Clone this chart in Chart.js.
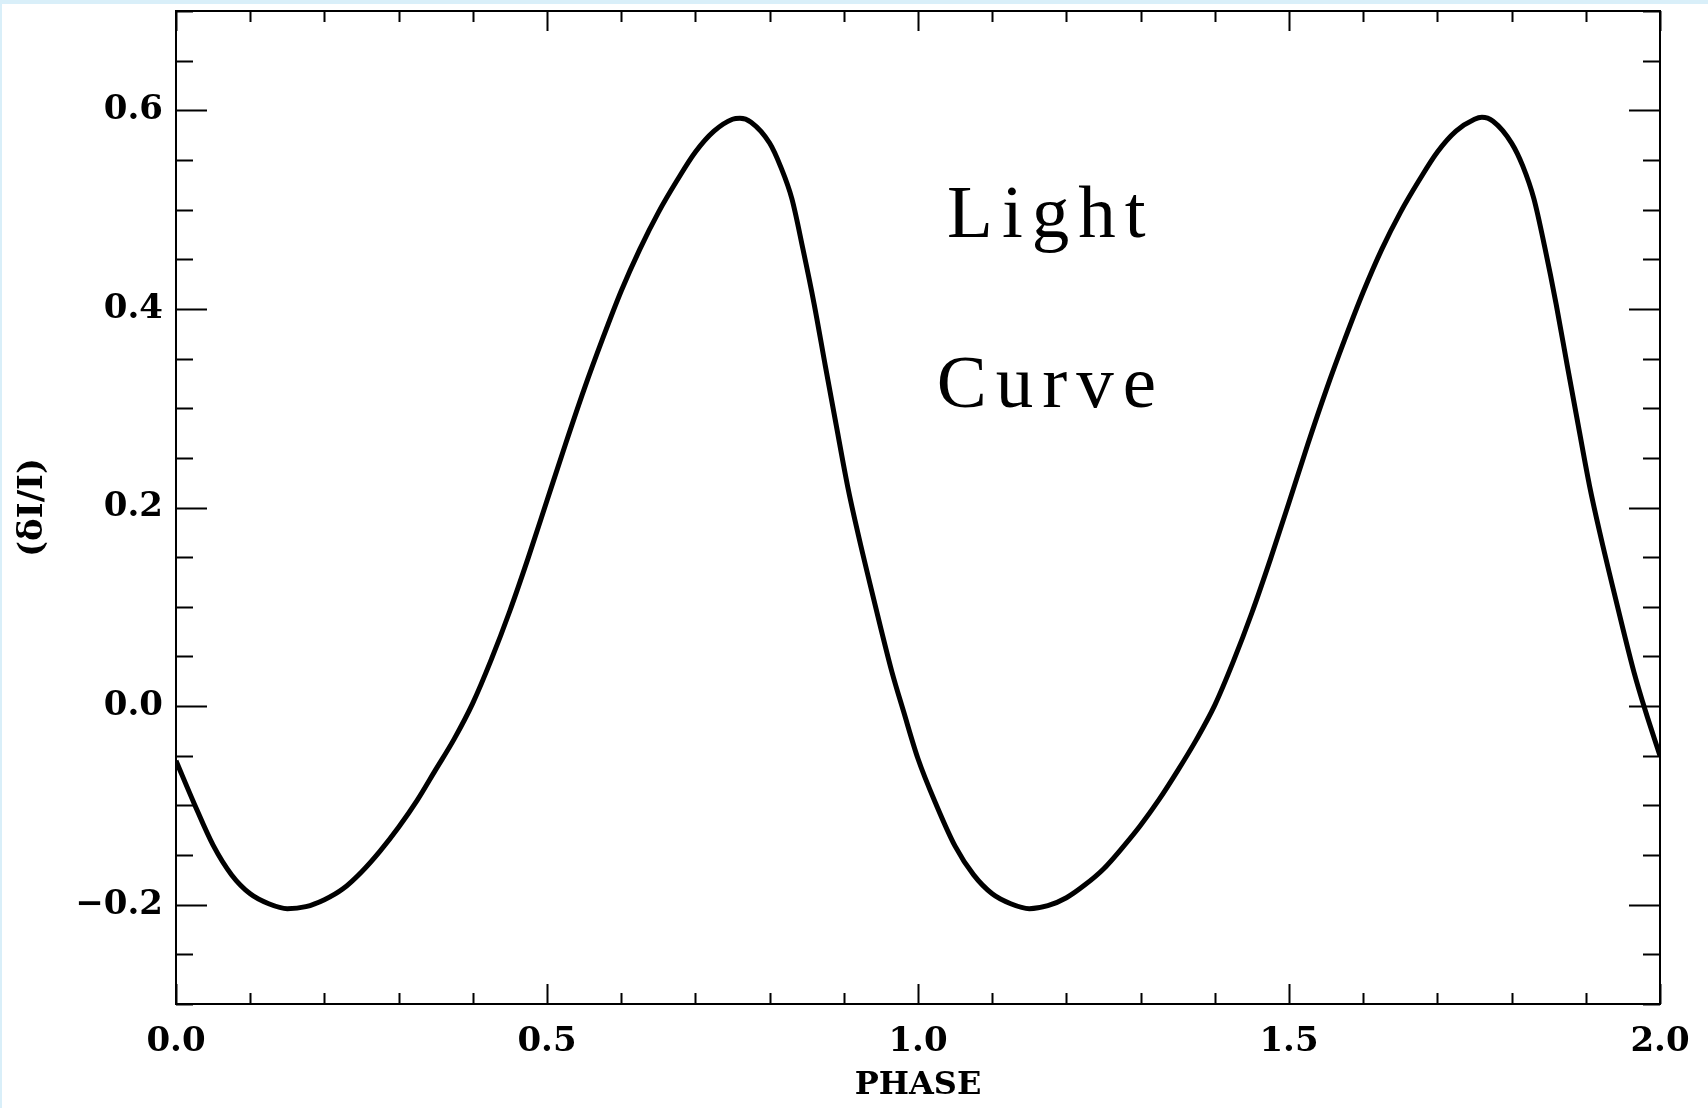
<!DOCTYPE html>
<html>
<head>
<meta charset="utf-8">
<script src="https://cdn.jsdelivr.net/npm/chart.js@4/dist/chart.umd.min.js"></script>
<style>
  html, body { margin: 0; padding: 0; background: #ffffff; }
  #chart { display: block; }
</style>
</head>
<body>
<canvas id="chart" width="1708" height="1108"></canvas>
<script>
// Light curve: phase vs (dI/I), two cycles
const phase = [
    0.000, 0.025, 0.050, 0.075, 0.100, 0.125, 0.150, 0.175, 0.200, 0.225,
    0.250, 0.275, 0.300, 0.325, 0.350, 0.375, 0.400, 0.425, 0.450, 0.475,
    0.500, 0.525, 0.550, 0.575, 0.600, 0.625, 0.650, 0.675, 0.700, 0.725,
    0.750, 0.760, 0.775, 0.800, 0.815, 0.830, 0.845, 0.860, 0.875, 0.890,
    0.905, 0.920, 0.935, 0.950, 0.965, 0.980,
    1.000, 1.025, 1.050, 1.075, 1.100, 1.125, 1.150, 1.175, 1.200, 1.225,
    1.250, 1.275, 1.300, 1.325, 1.350, 1.375, 1.400, 1.425, 1.450, 1.475,
    1.500, 1.525, 1.550, 1.575, 1.600, 1.625, 1.650, 1.675, 1.700, 1.725,
    1.750, 1.760, 1.775, 1.800, 1.815, 1.830, 1.845, 1.860, 1.875, 1.890,
    1.905, 1.920, 1.935, 1.950, 1.965, 1.980, 2.000
];
const deltaI = [
    -0.055, -0.099, -0.140, -0.170, -0.189, -0.199, -0.204, -0.202, -0.195, -0.184,
    -0.167, -0.146, -0.122, -0.095, -0.064, -0.033, 0.003, 0.047, 0.096, 0.150,
    0.207, 0.264, 0.319, 0.370, 0.418, 0.460, 0.497, 0.529, 0.558, 0.579,
    0.591, 0.592, 0.588, 0.567, 0.543, 0.511, 0.460, 0.405, 0.343, 0.282,
    0.222, 0.171, 0.124, 0.078, 0.034, -0.004,
    -0.053, -0.100, -0.141, -0.170, -0.189, -0.199, -0.204, -0.201, -0.193, -0.180,
    -0.164, -0.143, -0.120, -0.094, -0.065, -0.034, 0.001, 0.045, 0.094, 0.148,
    0.205, 0.263, 0.318, 0.369, 0.417, 0.460, 0.497, 0.529, 0.558, 0.579,
    0.591, 0.593, 0.589, 0.567, 0.544, 0.511, 0.461, 0.405, 0.343, 0.282,
    0.222, 0.171, 0.124, 0.078, 0.034, -0.004, -0.050
];

const xMajorTicks = [0, 0.5, 1.0, 1.5, 2.0];
const yMajorTicks = [-0.2, 0, 0.2, 0.4, 0.6];

// text written inside the plot, anchored in data units
const noteText = ['Light', 'Curve'];
const notePhase = [1.173, 1.173];
const noteLevel = [0.472, 0.301];

const fontFamily = '"DejaVu Serif", serif';

// light blue edge of the page + white sheet
const pageBackground = {
    id: 'pageBackground',
    beforeDraw(chart) {
        const ctx = chart.ctx;
        ctx.save();
        ctx.fillStyle = '#d9eff9';
        ctx.fillRect(0, 0, chart.width, chart.height);
        ctx.fillStyle = '#ffffff';
        ctx.fillRect(2, 4, chart.width - 2, chart.height - 4);
        ctx.restore();
    }
};

// box frame with inward ticks on all four sides
const frameTicks = {
    id: 'frameTicks',
    afterDraw(chart) {
        const { ctx, chartArea: a, scales } = chart;
        const xs = scales.x, ys = scales.y;
        ctx.save();
        ctx.strokeStyle = '#000';
        ctx.lineWidth = 2;
        ctx.strokeRect(a.left, a.top, a.right - a.left, a.bottom - a.top);

        ctx.beginPath();
        for (let i = 0; i <= 20; i++) {
            const v = i / 10;
            const len = (i % 5 === 0) ? 20 : 11;
            const px = Math.round(xs.getPixelForValue(v)) + 0.5;
            ctx.moveTo(px, a.bottom);
            ctx.lineTo(px, a.bottom - len);
            ctx.moveTo(px, a.top);
            ctx.lineTo(px, a.top + len);
        }
        for (let i = -6; i <= 14; i++) {
            const v = i * 0.05;
            const len = (i % 4 === 0) ? 31 : 17;
            const py = Math.round(ys.getPixelForValue(v)) + 0.5;
            ctx.moveTo(a.left, py);
            ctx.lineTo(a.left + len, py);
            ctx.moveTo(a.right, py);
            ctx.lineTo(a.right - len, py);
        }
        ctx.stroke();

        // annotation words
        ctx.fillStyle = '#000';
        ctx.font = '75px "Liberation Serif", serif';
        ctx.textAlign = 'center';
        ctx.textBaseline = 'alphabetic';
        ctx.letterSpacing = '9px';
        noteText.forEach((t, i) => {
            ctx.fillText(t, xs.getPixelForValue(notePhase[i]) + 4.5, ys.getPixelForValue(noteLevel[i]));
        });
        ctx.restore();
    }
};

new Chart(document.getElementById('chart'), {
    type: 'line',
    data: {
        datasets: [{
            data: phase.map((p, i) => ({ x: p, y: deltaI[i] })),
            borderColor: '#000',
            borderWidth: 5,
            pointRadius: 0,
            fill: false,
            cubicInterpolationMode: 'monotone'
        }]
    },
    options: {
        responsive: false,
        animation: false,
        layout: { padding: { left: 0, top: 11, right: 48, bottom: 0 } },
        plugins: {
            legend: { display: false },
            tooltip: { enabled: false }
        },
        scales: {
            x: {
                type: 'linear',
                min: 0,
                max: 2,
                afterBuildTicks: s => { s.ticks = xMajorTicks.map(v => ({ value: v })); },
                afterFit: s => { s.height = 104; s.paddingLeft = 0; s.paddingRight = 0; },
                grid: { display: false, drawTicks: false },
                border: { display: false },
                ticks: {
                    color: '#000',
                    padding: 18,
                    maxRotation: 0,
                    font: { family: fontFamily, size: 34, weight: 'bold' },
                    callback: v => Number(v).toFixed(1)
                },
                title: {
                    display: true,
                    text: 'PHASE',
                    color: '#000',
                    padding: { top: 0, bottom: 3 },
                    font: { family: fontFamily, size: 32, weight: 'bold' }
                }
            },
            y: {
                type: 'linear',
                min: -0.3,
                max: 0.7,
                afterBuildTicks: s => { s.ticks = yMajorTicks.map(v => ({ value: v })); },
                afterFit: s => { s.width = 176; s.paddingTop = 0; s.paddingBottom = 0; },
                grid: { display: false, drawTicks: false },
                border: { display: false },
                ticks: {
                    color: '#000',
                    padding: 13,
                    font: { family: fontFamily, size: 34, weight: 'bold' },
                    callback: v => (v < -1e-9 ? '\u2212' : '') + Math.abs(v).toFixed(1)
                },
                title: {
                    display: true,
                    text: '(\u03b4I/I)',
                    color: '#000',
                    padding: { top: 13, bottom: 0 },
                    font: { family: fontFamily, size: 34, weight: 'bold' }
                }
            }
        }
    },
    plugins: [pageBackground, frameTicks]
});
</script>
</body>
</html>
